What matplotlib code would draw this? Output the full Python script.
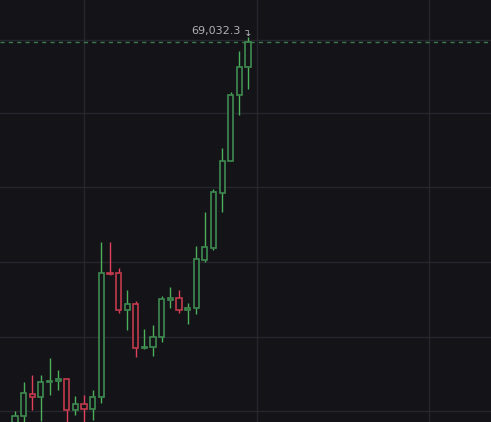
import matplotlib
matplotlib.use("Agg")
import matplotlib.pyplot as plt
from matplotlib.patches import Rectangle

opens  = [43332,43936,45413,45211,46218,46285,46419,44339,44742,44406,45211,53532,53532,51049,51452,48499,48566,49237,51720,51854,51049,51183,54404,55209,58900,61047,65475,67354]
highs  = [44272,46218,46688,46688,47828,47023,46419,45278,45346,45681,55612,55612,53867,52391,51653,49774,50042,51988,52592,52391,51519,55343,57625,59168,61919,65677,68428,69367]
lows   = [43131,43400,44339,43601,45346,45681,43400,44004,43400,43668,44809,53397,50848,49707,47895,48432,47962,48901,51183,50848,50110,50781,54270,55075,57625,61047,64134,65878]
closes = [43936,45480,45211,46218,46285,46419,44339,44742,44406,45211,53532,53465,51049,51452,48499,48566,49237,51787,51854,51049,51183,54471,55276,58967,61047,65475,67354,69032.3]
last_price = 69032.3
h_grid = [44272,49237,54270,59300,64268,69166]
v_grid = [8,28,48]

bg = "#131318"
up_edge, up_wick = "#3f8a50", "#4caf5a"
dn_edge, dn_wick = "#c23a4c", "#e0405a"

fig = plt.figure(figsize=(4.91,4.22), dpi=100, facecolor=bg)
ax = fig.add_axes([0,0,1,1])
ax.set_facecolor(bg)
for g in h_grid:
    ax.axhline(g, color="#26262d", lw=1, zorder=0)
for g in v_grid:
    ax.axvline(g, color="#26262d", lw=1, zorder=0)

w = 0.6
for i,(o,h,l,c) in enumerate(zip(opens,highs,lows,closes)):
    up = c >= o
    ec = up_edge if up else dn_edge
    wc = up_wick if up else dn_wick
    top, bot = max(o,c), min(o,c)
    ax.vlines(i, top, h, color=wc, lw=1, zorder=2)
    ax.vlines(i, l, bot, color=wc, lw=1, zorder=2)
    ax.add_patch(Rectangle((i-w/2, bot), w, max(top-bot, 40), facecolor=bg, edgecolor=ec, lw=1.2, zorder=3))

ax.axhline(last_price, color="#3d7a52", lw=1, ls=(0,(3,3)), zorder=1)
ax.text(26.2, last_price+400, f"{last_price:,.1f}", color="#b0b0b8", fontsize=8, ha="right", va="bottom")
ax.text(26.9, last_price+250, "↴", color="#b0b0b8", fontsize=7, ha="center", va="bottom")

ax.set_xlim(-1.74, 55.16)
ax.set_ylim(43534, 71850)
ax.axis("off")
fig.savefig("out.png", dpi=100, facecolor=bg)
